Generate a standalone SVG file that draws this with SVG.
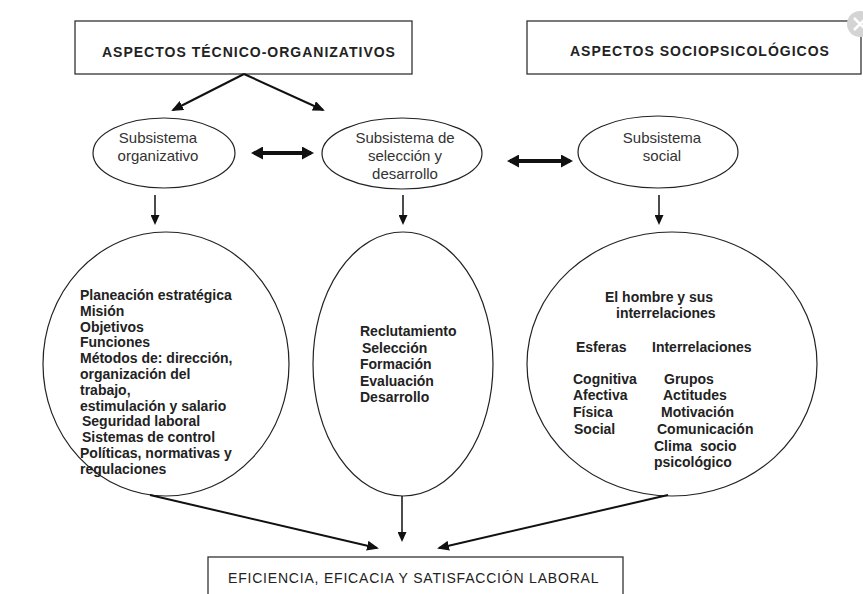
<svg xmlns="http://www.w3.org/2000/svg" width="863" height="594" viewBox="0 0 863 594">
  <style>
    .box { fill: #fff; stroke: #333; stroke-width: 1.3; }
    .ell { fill: #fff; stroke: #222; stroke-width: 1.2; }
    .hdr { font-family: "Liberation Sans", Arial, sans-serif; font-size: 14px; font-weight: bold; letter-spacing: 1px; fill: #222; }
    .sub { font-family: "Liberation Sans", Arial, sans-serif; font-size: 15px; fill: #333; text-anchor: middle; }
    .lst { font-family: "Liberation Sans", Arial, sans-serif; font-size: 14px; font-weight: bold; fill: #222; }
    .bot { font-family: "Liberation Sans", Arial, sans-serif; font-size: 14px; letter-spacing: 0.8px; fill: #222; }
    .c1 { stroke: #111; stroke-width: 2; fill: none; }
    .c0 { stroke: #111; stroke-width: 1.5; fill: none; }
    .c3 { stroke: #111; stroke-width: 4; fill: none; }
  </style>
  <defs>
    <marker id="ah" markerUnits="userSpaceOnUse" markerWidth="12" markerHeight="10" refX="10" refY="5" orient="auto">
      <path d="M0,0 L12,5 L0,10 z" fill="#111"/>
    </marker>
    <marker id="ahs" markerUnits="userSpaceOnUse" markerWidth="10" markerHeight="9" refX="8" refY="4.5" orient="auto">
      <path d="M0,0 L10,4.5 L0,9 z" fill="#111"/>
    </marker>
    <marker id="dh" markerUnits="userSpaceOnUse" markerWidth="12" markerHeight="13" refX="9" refY="6.5" orient="auto-start-reverse">
      <path d="M0,0 L12,6.5 L0,13 z" fill="#111"/>
    </marker>
  </defs>
  <rect width="863" height="594" fill="#fff"/>

  <g id="box-tecnico">
    <rect class="box" x="75" y="21" width="337" height="53"/>
    <text class="hdr" x="102" y="57">ASPECTOS TÉCNICO-ORGANIZATIVOS</text>
  </g>
  <g id="box-socio">
    <rect class="box" x="527" y="21" width="334" height="53"/>
    <text class="hdr" x="570" y="56">ASPECTOS SOCIOPSICOLÓGICOS</text>
  </g>
  <g id="close-icon">
    <circle cx="860" cy="24" r="13" fill="#d4d4d4"/>
    <path d="M854,18 L866,30 M866,18 L854,30" stroke="#fff" stroke-width="2.5"/>
  </g>

  <g id="sub-org">
    <ellipse class="ell" cx="164" cy="153" rx="71" ry="35"/>
    <text class="sub" x="158" y="143">Subsistema</text>
    <text class="sub" x="158" y="161">organizativo</text>
  </g>
  <g id="sub-sel">
    <ellipse class="ell" cx="402" cy="153.5" rx="80" ry="35.5"/>
    <text class="sub" x="405" y="143">Subsistema de</text>
    <text class="sub" x="405" y="161">selección y</text>
    <text class="sub" x="405" y="179">desarrollo</text>
  </g>
  <g id="sub-soc">
    <ellipse class="ell" cx="658" cy="152" rx="80" ry="36"/>
    <text class="sub" x="662" y="143">Subsistema</text>
    <text class="sub" x="662" y="161">social</text>
  </g>

  <g id="circ-org">
    <ellipse class="ell" cx="166" cy="364" rx="123" ry="132"/>
    <text class="lst" x="80" y="300">Planeación estratégica</text>
    <text class="lst" x="80" y="315.8">Misión</text>
    <text class="lst" x="80" y="331.6">Objetivos</text>
    <text class="lst" x="80" y="347.4">Funciones</text>
    <text class="lst" x="80" y="363.2">Métodos de: dirección,</text>
    <text class="lst" x="80" y="379">organización del</text>
    <text class="lst" x="80" y="394.8">trabajo,</text>
    <text class="lst" x="80" y="410.6">estimulación y salario</text>
    <text class="lst" x="82" y="426.4">Seguridad laboral</text>
    <text class="lst" x="82" y="442.2">Sistemas de control</text>
    <text class="lst" x="80" y="458">Políticas, normativas y</text>
    <text class="lst" x="80" y="473.8">regulaciones</text>
  </g>
  <g id="circ-sel">
    <ellipse class="ell" cx="403" cy="364" rx="90" ry="132"/>
    <text class="lst" x="360" y="336">Reclutamiento</text>
    <text class="lst" x="362" y="353">Selección</text>
    <text class="lst" x="360" y="369">Formación</text>
    <text class="lst" x="360" y="386">Evaluación</text>
    <text class="lst" x="360" y="402">Desarrollo</text>
  </g>
  <g id="circ-soc">
    <ellipse class="ell" cx="672" cy="364" rx="145" ry="132"/>
    <text class="lst" x="605" y="302">El hombre y sus</text>
    <text class="lst" x="616" y="318">interrelaciones</text>
    <text class="lst" x="576" y="352">Esferas</text>
    <text class="lst" x="652" y="352">Interrelaciones</text>
    <text class="lst" x="573" y="384">Cognitiva</text>
    <text class="lst" x="664" y="384">Grupos</text>
    <text class="lst" x="573" y="400">Afectiva</text>
    <text class="lst" x="663" y="400">Actitudes</text>
    <text class="lst" x="573" y="417">Física</text>
    <text class="lst" x="661" y="417">Motivación</text>
    <text class="lst" x="574" y="434">Social</text>
    <text class="lst" x="657" y="434">Comunicación</text>
    <text class="lst" x="654" y="451" xml:space="preserve">Clima  socio</text>
    <text class="lst" x="654" y="467">psicológico</text>
  </g>

  <g id="box-efic">
    <rect class="box" x="208" y="557" width="415" height="45"/>
    <text class="bot" x="228" y="583">EFICIENCIA, EFICACIA Y SATISFACCIÓN LABORAL</text>
  </g>

  <g id="connectors">
    <line class="c1" x1="244" y1="74" x2="173" y2="110" marker-end="url(#ah)"/>
    <line class="c1" x1="244" y1="74" x2="323" y2="110" marker-end="url(#ah)"/>
    <line class="c3" x1="254" y1="153" x2="311" y2="153" marker-start="url(#dh)" marker-end="url(#dh)"/>
    <line class="c3" x1="510" y1="161" x2="570" y2="161" marker-start="url(#dh)" marker-end="url(#dh)"/>
    <line class="c0" x1="155" y1="195" x2="155" y2="223" marker-end="url(#ahs)"/>
    <line class="c0" x1="403" y1="195" x2="403" y2="223" marker-end="url(#ahs)"/>
    <line class="c0" x1="659" y1="195" x2="659" y2="223" marker-end="url(#ahs)"/>
    <line class="c0" x1="402" y1="496" x2="402" y2="540" marker-end="url(#ahs)"/>
    <line class="c1" x1="150" y1="495" x2="377" y2="548" marker-end="url(#ah)"/>
    <line class="c1" x1="668" y1="495" x2="439" y2="548" marker-end="url(#ah)"/>
  </g>
</svg>
